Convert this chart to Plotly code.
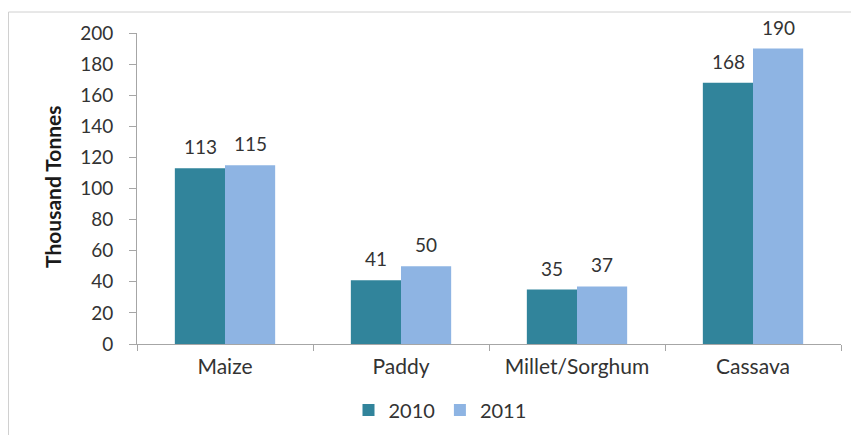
import plotly.graph_objects as go

categories = ["Maize", "Paddy", "Millet/Sorghum", "Cassava"]
values_2010 = [113, 41, 35, 168]
values_2011 = [115, 50, 37, 190]
series_names = ["2010", "2011"]
y_ticks = [0, 20, 40, 60, 80, 100, 120, 140, 160, 180, 200]

FONT = "Lato, Open Sans, sans-serif"
TXT = "#333333"
COLORS = ["#31849B", "#8EB4E3"]

# page has an 8px body margin, so the figure is drawn 8px in from the window edge
OFF = 8
W, H = 859 - OFF, 435 - OFF
L, T = 137 - OFF, 33 - OFF
R = W - (841 - OFF)
B = H - (344 - OFF)
pw, ph = W - L - R, H - T - B

def px(x):  # screen x -> paper
    return (x - OFF - L) / pw

def py(y):  # screen y -> paper
    return (H - B - (y - OFF)) / ph

fig = go.Figure()
annotations = []
for i, (name, vals) in enumerate([(series_names[0], values_2010), (series_names[1], values_2011)]):
    fig.add_trace(go.Bar(name=name, x=categories, y=vals, marker_color=COLORS[i],
                         marker_line_width=0, hoverinfo="x+y+name"))
    for c, v in zip(categories, vals):
        annotations.append(dict(x=c, y=v, xref="x", yref="y", text=str(v), showarrow=False,
                                xanchor="center", yanchor="bottom", xshift=-25 if i == 0 else 25,
                                yshift=8, font=dict(size=19, color=TXT, family=FONT)))

annotations.append(dict(x=px(52), y=py(187), xref="paper", yref="paper", text="<b>Thousand Tonnes</b>",
                        textangle=-90, showarrow=False, xanchor="center", yanchor="middle",
                        font=dict(size=21, color="#1a1a1a", family=FONT)))

fig.update_layout(
    width=W, height=H,
    margin=dict(l=L, r=R, t=T, b=B, pad=0),
    paper_bgcolor="white", plot_bgcolor="white",
    barmode="group", bargap=0.43, bargroupgap=0,
    font=dict(family=FONT, size=19, color=TXT),
    showlegend=True,
    legend=dict(orientation="h", xref="container", x=432 / W, xanchor="center",
                yref="container", y=1 - (410 - OFF) / H, yanchor="middle",
                font=dict(size=20, color=TXT), traceorder="normal"),
    xaxis=dict(showline=True, linecolor="#A6A6A6", linewidth=1,
               ticks="outside", tickson="boundaries", ticklen=6, tickcolor="#A6A6A6",
               tickfont=dict(size=21), showgrid=False, ticklabelstandoff=4),
    yaxis=dict(range=[0, 200], tickvals=y_ticks, showline=True, linecolor="#A6A6A6",
               linewidth=1, ticks="outside", ticklen=7, tickcolor="#A6A6A6",
               tickfont=dict(size=19), showgrid=False, zeroline=False,
               ticklabelstandoff=12),
    annotations=annotations,
    shapes=[dict(type="rect", xref="paper", yref="paper",
                 x0=px(8.5), x1=px(858), y0=py(440), y1=py(12),
                 line=dict(color="#D0D0D0", width=1), fillcolor="rgba(0,0,0,0)", layer="below")],
)

fig.write_html("out.html")
